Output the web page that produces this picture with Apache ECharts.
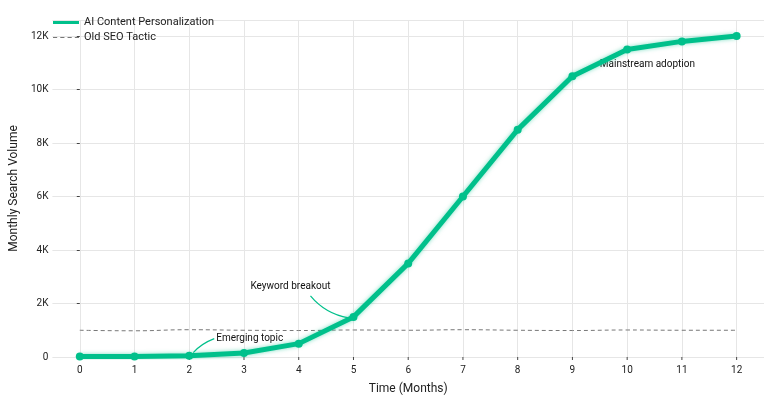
<!DOCTYPE html>
<html><head><meta charset="utf-8">
<script src="https://cdn.jsdelivr.net/npm/echarts@6/dist/echarts.min.js"></script>
<style>html,body{margin:0;background:#fff}#c{width:768px;height:400px}</style>
</head><body><div id="c"></div>
<script>
var months = [0, 1, 2, 3, 4, 5, 6, 7, 8, 9, 10, 11, 12];
var aiValues = [20, 20, 50, 150, 500, 1500, 3500, 6000, 8500, 10500, 11500, 11800, 12000];
var seoValues = [1000, 980, 1020, 1000, 990, 1010, 1000, 1020, 1000, 990, 1010, 1000, 1000];
var yTicks = ['0', '2K', '4K', '6K', '8K', '10K', '12K'];

var green = '#00c08b';
var font = 'Roboto, "Noto Sans", sans-serif';
var chart = echarts.init(document.getElementById('c'));
chart.setOption({
    animation: false,
    textStyle: { fontFamily: font },
    grid: { left: 41, right: 4, top: 20, bottom: 37 },
    legend: {
        left: 48, top: 12, orient: 'vertical', itemGap: 4, itemWidth: 26, itemHeight: 8,
        textStyle: { fontSize: 11, color: '#222' },
        data: [
            { name: 'AI Content Personalization', icon: 'path://M0,3h26v3h-26z' },
            { name: 'Old SEO Tactic', icon: 'path://M0,4h4v1h-4zM7,4h4v1h-4zM14,4h4v1h-4zM21,4h4v1h-4z' }
        ]
    },
    xAxis: {
        type: 'value', min: -0.5, max: 12.5, interval: 0.5,
        name: 'Time (Months)', nameLocation: 'middle', nameGap: 26,
        nameTextStyle: { fontSize: 12, color: '#222' },
        axisLine: { show: false }, axisTick: { show: false },
        axisLabel: { fontSize: 10, color: '#222',
            formatter: function (v) { return months.indexOf(v) >= 0 ? String(v) : ''; } },
        splitLine: { show: false }
    },
    yAxis: {
        type: 'value', min: 0, max: 12600, interval: 2000,
        name: 'Monthly Search Volume', nameLocation: 'middle', nameGap: 30,
        nameTextStyle: { fontSize: 12, color: '#222' },
        axisLine: { show: false }, axisTick: { show: true, length: 3, lineStyle: { color: '#444' } },
        axisLabel: { fontSize: 10, color: '#222', margin: 4, showMaxLabel: false,
            formatter: function (v) { return yTicks[v / 2000] || ''; } },
        splitLine: { lineStyle: { color: '#e6e6e6' } }
    },
    series: [
        { name: 'AI Content Personalization', type: 'line',
          data: months.map(function (m, i) { return [m, aiValues[i]]; }),
          symbol: 'circle', symbolSize: 8, itemStyle: { color: green },
          lineStyle: { color: green, width: 5, shadowColor: 'rgba(0,192,139,0.5)', shadowBlur: 4 }, z: 3 },
        { name: 'Old SEO Tactic', type: 'line',
          data: months.map(function (m, i) { return [m, seoValues[i]]; }),
          symbol: 'none', smooth: true, itemStyle: { color: '#777' },
          lineStyle: { color: '#777', width: 1, type: [4, 3] }, z: 2,
          markLine: { silent: true, symbol: 'none', label: { show: false }, z: 0,
              lineStyle: { color: '#e6e6e6', type: 'solid', width: 1 },
              data: months.map(function (m) { return { xAxis: m }; }) } }
    ]
});

function px(x, y) { return chart.convertToPixel({ gridIndex: 0 }, [x, y]); }
var p2 = px(2, aiValues[2]), p5 = px(5, aiValues[5]), pm = px(9.5, 10950);
var t1 = [p2[0] + 27, p2[1] - 17], t2 = [p5[0] - 103, p5[1] - 30];
var ticks = months.map(function (m) {
    var p = px(m, 0);
    return { type: 'line', shape: { x1: p[0], y1: p[1], x2: p[0], y2: p[1] + 3 }, style: { stroke: '#444', lineWidth: 1 } };
});
chart.setOption({
    graphic: ticks.concat([
        { type: 'text', x: t1[0], y: t1[1], style: { text: 'Emerging topic', font: '10px ' + font, fill: '#111', verticalAlign: 'middle' } },
        { type: 'bezierCurve', shape: { x1: p2[0] + 4, y1: p2[1] - 3, cpx1: p2[0] + 12, cpy1: p2[1] - 12, x2: t1[0] - 2, y2: t1[1] }, style: { stroke: green, lineWidth: 1.2, fill: null } },
        { type: 'text', x: t2[0], y: t2[1], style: { text: 'Keyword breakout', font: '10px ' + font, fill: '#111', verticalAlign: 'middle' } },
        { type: 'bezierCurve', shape: { x1: t2[0] + 60, y1: t2[1] + 9, cpx1: t2[0] + 75, cpy1: t2[1] + 27, x2: p5[0] - 5, y2: p5[1] + 1 }, style: { stroke: green, lineWidth: 1.2, fill: null } },
        { type: 'text', x: pm[0], y: pm[1], style: { text: 'Mainstream adoption', font: '10px ' + font, fill: '#111', verticalAlign: 'middle' } }
    ])
});
</script></body></html>
